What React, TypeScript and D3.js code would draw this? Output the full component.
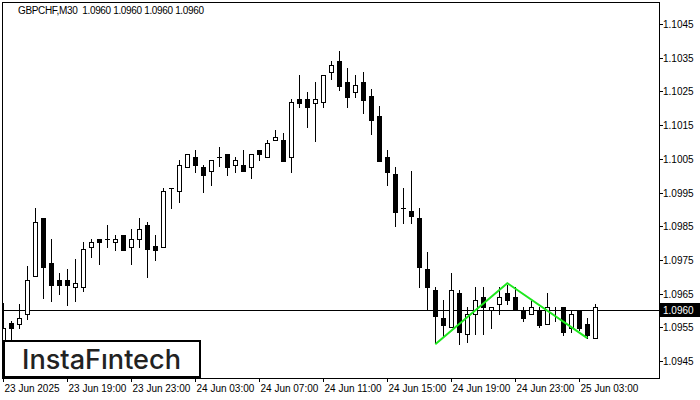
import React from "react";
import * as d3 from "d3";

const opens = [1.09496,1.09562,1.09559,1.09588,1.09701,1.09874,1.09740,1.09689,1.09689,1.09669,1.09669,1.09787,1.09811,1.09811,1.09802,1.09823,1.09787,1.09811,1.09853,1.09790,1.09787,1.09963,1.09954,1.10025,1.10054,1.10025,1.10013,1.10054,1.10063,1.10033,1.10033,1.10025,1.10075,1.10054,1.10105,1.10105,1.10054,1.10227,1.10227,1.10215,1.10218,1.10307,1.10340,1.10278,1.10248,1.10278,1.10236,1.10177,1.10054,1.10004,1.09903,1.09894,1.09874,1.09722,1.09660,1.09579,1.09550,1.09651,1.09529,1.09588,1.09639,1.09600,1.09618,1.09651,1.09639,1.09600,1.09588,1.09600,1.09559,1.09600,1.09609,1.09547,1.09597,1.09559,1.09517];
const highs = [1.09621,1.09568,1.09618,1.09731,1.09903,1.09874,1.09811,1.09710,1.09722,1.09752,1.09802,1.09811,1.09811,1.09853,1.09823,1.09823,1.09841,1.09874,1.09862,1.09823,1.09963,1.09963,1.10045,1.10063,1.10075,1.10033,1.10045,1.10084,1.10063,1.10054,1.10075,1.10063,1.10075,1.10105,1.10135,1.10126,1.10227,1.10298,1.10248,1.10278,1.10298,1.10340,1.10370,1.10319,1.10298,1.10307,1.10257,1.10206,1.10075,1.10025,1.09963,1.10013,1.09903,1.09773,1.09669,1.09630,1.09710,1.09660,1.09609,1.09671,1.09671,1.09609,1.09669,1.09677,1.09669,1.09609,1.09627,1.09609,1.09651,1.09609,1.09609,1.09597,1.09600,1.09579,1.09618];
const lows = [1.09481,1.09505,1.09547,1.09576,1.09701,1.09636,1.09627,1.09648,1.09615,1.09627,1.09657,1.09758,1.09737,1.09787,1.09779,1.09779,1.09737,1.09787,1.09698,1.09749,1.09787,1.09903,1.09921,1.10025,1.10010,1.09951,1.09972,1.10030,1.10001,1.10010,1.10013,1.09992,1.10045,1.10054,1.10105,1.10042,1.10010,1.10203,1.10144,1.10102,1.10203,1.10287,1.10254,1.10203,1.10233,1.10185,1.10123,1.10042,1.09972,1.09850,1.09859,1.09859,1.09669,1.09600,1.09502,1.09520,1.09550,1.09499,1.09505,1.09529,1.09529,1.09547,1.09588,1.09618,1.09600,1.09568,1.09588,1.09550,1.09559,1.09568,1.09526,1.09535,1.09541,1.09517,1.09517];
const closes = [1.09547,1.09547,1.09579,1.09689,1.09862,1.09728,1.09677,1.09677,1.09677,1.09680,1.09782,1.09802,1.09802,1.09811,1.09811,1.09779,1.09811,1.09841,1.09782,1.09779,1.09954,1.09963,1.10033,1.10063,1.10033,1.10001,1.10045,1.10054,1.10025,1.10045,1.10013,1.10063,1.10063,1.10096,1.10114,1.10042,1.10218,1.10215,1.10203,1.10227,1.10298,1.10328,1.10266,1.10233,1.10269,1.10224,1.10165,1.10042,1.10010,1.09891,1.09903,1.09880,1.09728,1.09669,1.09585,1.09556,1.09660,1.09535,1.09588,1.09630,1.09609,1.09609,1.09639,1.09630,1.09600,1.09579,1.09609,1.09556,1.09609,1.09600,1.09535,1.09588,1.09547,1.09526,1.09609];

const priceTicks = [1.0945,1.0955,1.0965,1.0975,1.0985,1.0995,1.1005,1.1015,1.1025,1.1035,1.1045];
const timeTickBars = [0,8,16,24,32,40,48,56,64,72];
const timeTickLabels = ["23 Jun 2025","23 Jun 19:00","23 Jun 23:00","24 Jun 03:00","24 Jun 07:00","24 Jun 11:00","24 Jun 15:00","24 Jun 19:00","24 Jun 23:00","25 Jun 03:00"];
const patternBars = [54, 63, 73];
const patternPrices = [1.09500, 1.09681, 1.09518];
const currentPrice = 1.0960;
const title = "GBPCHF,M30  1.0960 1.0960 1.0960 1.0960";

const W = 700, H = 400;
const L = 3, R = 659, T = 3, B = 378;

export default function App() {
  const x = d3.scaleLinear().domain([0, 74]).range([3.3, 3.3 + 8 * 74]);
  const y = d3.scaleLinear().domain([1.0945, 1.1045]).range([361, 24]);
  const font = "'Liberation Sans', Arial, sans-serif";
  const line = d3.line<number>().x((d, i) => x(patternBars[i])).y((d) => y(d));
  const cy = Math.round(y(currentPrice)) + 0.5;

  return (
    <svg width={W} height={H} style={{ position: "absolute", left: 0, top: 0, background: "#fff" }}>
      <rect x={0} y={0} width={W} height={H} fill="#fff" />
      <defs>
        <clipPath id="plot"><rect x={L} y={T} width={R - L} height={B - T} /></clipPath>
      </defs>
      <g clipPath="url(#plot)" shapeRendering="crispEdges">
        <line x1={L} x2={R} y1={cy} y2={cy} stroke="#000" strokeWidth={1} />
        {opens.map((o, i) => {
          const c = closes[i];
          const cx = Math.round(x(i));
          const yh = Math.round(y(highs[i]));
          const yl = Math.round(y(lows[i]));
          const top = Math.round(y(Math.max(o, c)));
          const bot = Math.round(y(Math.min(o, c)));
          const bull = c > o;
          return (
            <g key={i}>
              <line x1={cx + 0.5} x2={cx + 0.5} y1={yh} y2={yl + 1} stroke="#000" />
              {bot - top < 1 ? (
                <line x1={cx - 2} x2={cx + 3} y1={top + 0.5} y2={top + 0.5} stroke="#000" />
              ) : (
                <rect x={cx - 1.5} y={top + 0.5} width={4} height={bot - top} fill={bull ? "#fff" : "#000"} stroke="#000" />
              )}
            </g>
          );
        })}
      </g>
      <path d={line(patternPrices) || ""} fill="none" stroke="#1ee81e" strokeWidth={2} />
      {/* frame */}
      <rect x={L - 0.5} y={T - 0.5} width={R - L + 1} height={B - T + 1} fill="none" stroke="#000" shapeRendering="crispEdges" />
      {/* price axis */}
      {priceTicks.map((p) => {
        const yy = Math.round(y(p)) + 0.5;
        return (
          <g key={p}>
            <line x1={R} x2={R + 4} y1={yy} y2={yy} stroke="#000" shapeRendering="crispEdges" />
            <text x={663} y={yy + 3.5} fontFamily={font} fontSize={10} fill="#000">{p.toFixed(4)}</text>
          </g>
        );
      })}
      <rect x={660} y={cy - 7.5} width={40} height={14} fill="#000" />
      <text x={663} y={cy + 3.5} fontFamily={font} fontSize={10} fill="#fff">{currentPrice.toFixed(4)}</text>
      {/* time axis */}
      {timeTickBars.map((b, k) => {
        const xx = Math.round(x(b)) + 0.5;
        return (
          <g key={b}>
            <line x1={xx} x2={xx} y1={B} y2={B + 4} stroke="#000" shapeRendering="crispEdges" />
            <text x={xx + 1} y={392} fontFamily={font} fontSize={10} fill="#000">{timeTickLabels[k]}</text>
          </g>
        );
      })}
      <text x={18} y={14} fontFamily={font} fontSize={10} fill="#000" style={{ whiteSpace: "pre" }} textLength={186} lengthAdjust="spacing">{title}</text>
      {/* logo */}
      <rect x={4} y={341} width={196} height={36} fill="#fff" stroke="#000" strokeWidth={2} />
      <text x={22} y={369} fontFamily="Inter, 'Open Sans', sans-serif" fontWeight={500} fontSize={27} fill="#222" textLength={159} lengthAdjust="spacingAndGlyphs">InstaFıntech</text>
    </svg>
  );
}
